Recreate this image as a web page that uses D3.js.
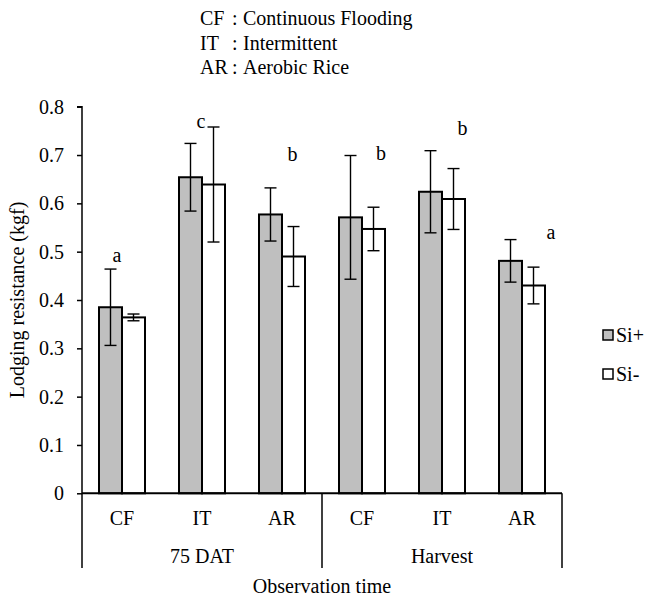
<!DOCTYPE html>
<html>
<head>
<meta charset="utf-8">
<script src="https://cdn.jsdelivr.net/npm/d3@7/dist/d3.min.js"></script>
<style>
  html, body { margin: 0; padding: 0; background: #fff; }
  svg, svg text { font-family: "Liberation Serif", "Times New Roman", serif !important; }
</style>
</head>
<body>
<svg id="chart" width="649" height="601"></svg>
<script>
// ---- data ----
const periods = ["75 DAT", "Harvest"];
const treatments = ["CF", "IT", "AR"];
const seriesNames = ["Si+", "Si-"];
const siPlus = [0.385, 0.654, 0.577, 0.571, 0.624, 0.481];
const siMinus = [0.364, 0.639, 0.490, 0.547, 0.609, 0.430];
const errPlus = [0.079, 0.070, 0.055, 0.128, 0.085, 0.044];
const errMinus = [0.007, 0.119, 0.062, 0.045, 0.063, 0.038];
const letters = ["a", "c", "b", "b", "b", "a"];
const letterValues = [0.479, 0.755, 0.687, 0.690, 0.741, 0.527];
const yTicks = [0, 0.1, 0.2, 0.3, 0.4, 0.5, 0.6, 0.7, 0.8];
const abbrevs = ["CF", "IT", "AR"];
const abbrevNames = ["Continuous Flooding", "Intermittent", "Aerobic Rice"];
const yTitle = "Lodging resistance (kgf)";
const xTitle = "Observation time";
const colors = ["#bfbfbf", "#ffffff"];

(function () {
// ---- layout ----
const svg = d3.select("#chart");
const mLeft = 82, mRight = 562, mTop = 106.7, mBottom = 493.3;
const fs = 20;
const FF = "'Liberation Serif', 'Times New Roman', serif";

const cats = [];
periods.forEach(p => treatments.forEach(t => cats.push(p + "|" + t)));

const x = d3.scaleBand().domain(cats).range([mLeft, mRight]).paddingInner(0).paddingOuter(0);
const y = d3.scaleLinear().domain([0, 0.8]).range([mBottom, mTop]);
const barW = 23;
const sub = d3.scaleBand().domain(seriesNames).range([-barW, barW]);

// y axis
const yAxis = d3.axisLeft(y).tickValues(yTicks).tickSize(5).tickPadding(13)
  .tickFormat(d => d === 0 ? "0" : d3.format(".1f")(d));
const gy = svg.append("g").attr("transform", `translate(${mLeft},0)`).call(yAxis)
  .attr("font-family", FF).attr("font-size", fs);
gy.select(".domain").attr("d", `M-5,${mTop}H0V${mBottom}`).attr("stroke", "#000").attr("stroke-width", 1.5);
gy.selectAll(".tick line").attr("stroke", "#000").attr("stroke-width", 1.5);
gy.selectAll(".tick text").attr("font-size", fs).attr("fill", "#000").attr("font-family", FF);

// bars
const data = [];
cats.forEach((c, i) => {
  data.push({ c, s: 0, v: siPlus[i], e: errPlus[i] });
  data.push({ c, s: 1, v: siMinus[i], e: errMinus[i] });
});
const cx = c => x(c) + x.bandwidth() / 2;

svg.append("g").selectAll("rect").data(data).join("rect")
  .attr("x", d => cx(d.c) + sub(seriesNames[d.s]))
  .attr("y", d => y(d.v))
  .attr("width", sub.bandwidth())
  .attr("height", d => y(0) - y(d.v))
  .attr("fill", d => colors[d.s])
  .attr("stroke", "#000").attr("stroke-width", 2);

// error bars
const eg = svg.append("g").attr("stroke", "#000").attr("stroke-width", 1.4);
data.forEach(d => {
  const xc = cx(d.c) + sub(seriesNames[d.s]) + sub.bandwidth() / 2;
  const y1 = y(d.v + d.e), y2 = y(d.v - d.e);
  eg.append("line").attr("x1", xc).attr("x2", xc).attr("y1", y1).attr("y2", y2);
  eg.append("line").attr("x1", xc - 6).attr("x2", xc + 6).attr("y1", y1).attr("y2", y1);
  eg.append("line").attr("x1", xc - 6).attr("x2", xc + 6).attr("y1", y2).attr("y2", y2);
});

// x axis baseline
svg.append("line").attr("x1", mLeft).attr("x2", mRight).attr("y1", y(0)).attr("y2", y(0))
  .attr("stroke", "#000").attr("stroke-width", 2);

// group separators
const sepBottom = 568;
const seps = [mLeft, x(cats[3]), mRight];
svg.append("g").selectAll("line").data(seps).join("line")
  .attr("x1", d => d).attr("x2", d => d).attr("y1", y(0)).attr("y2", sepBottom)
  .attr("stroke", "#000").attr("stroke-width", 1.5);

const txt = (g) => g.attr("font-family", FF).attr("font-size", fs).attr("fill", "#000");

// category labels
svg.append("g").call(txt).selectAll("text").data(cats).join("text")
  .attr("x", d => cx(d)).attr("y", 525).attr("text-anchor", "middle")
  .text(d => d.split("|")[1]);

// period labels
svg.append("g").call(txt).selectAll("text").data(periods).join("text")
  .attr("x", (d, i) => (x(cats[i * 3]) + x(cats[i * 3 + 2]) + x.bandwidth()) / 2)
  .attr("y", 563).attr("text-anchor", "middle").text(d => d);

// x title
svg.append("text").call(txt).attr("x", (mLeft + mRight) / 2).attr("y", 593)
  .attr("text-anchor", "middle").text(xTitle);

// y title
svg.append("text").call(txt).attr("transform", `translate(24,300) rotate(-90)`)
  .attr("text-anchor", "middle").text(yTitle);

// significance letters
const letterDx = [-5, -1, 10.5, 19, 20.5, 29];
svg.append("g").call(txt).selectAll("text").data(letters).join("text")
  .attr("x", (d, i) => cx(cats[i]) + letterDx[i])
  .attr("y", (d, i) => y(letterValues[i]))
  .attr("text-anchor", "middle").text(d => d);

// top abbreviation legend
const ab = svg.append("g").call(txt);
abbrevs.forEach((a, i) => {
  const yy = 25 + i * 24.5;
  ab.append("text").attr("x", 200).attr("y", yy).text(a);
  ab.append("text").attr("x", 232).attr("y", yy).text(":");
  ab.append("text").attr("x", 243).attr("y", yy).text(abbrevNames[i]);
});

// series legend
const lg = svg.append("g").call(txt);
seriesNames.forEach((s, i) => {
  const yy = 335 + i * 39;
  lg.append("rect").attr("x", 603).attr("y", yy - 5).attr("width", 10).attr("height", 10)
    .attr("fill", colors[i]).attr("stroke", "#000").attr("stroke-width", 1.5);
  lg.append("text").attr("x", 616).attr("y", yy + 7).text(s);
});
})();
</script>
</body>
</html>
